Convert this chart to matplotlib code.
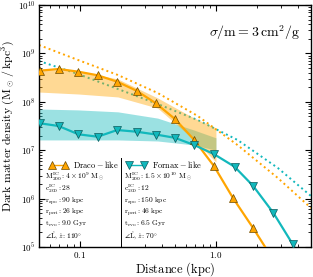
import matplotlib
matplotlib.use("Agg")
import matplotlib.pyplot as plt
from matplotlib.lines import Line2D
import numpy as np

plt.rcParams['font.family'] = 'serif'
plt.rcParams['font.serif'] = ['cmr10', 'DejaVu Serif']
plt.rcParams['mathtext.fontset'] = 'cm'
plt.rcParams['axes.formatter.use_mathtext'] = True

# ---- data ----
draco_r = [0.0508, 0.0697, 0.0974, 0.135, 0.188, 0.261, 0.362, 0.500, 0.692, 0.967, 1.34, 1.87]
draco_rho = [4.4e8, 4.76e8, 4.19e8, 3.53e8, 2.6e8, 1.69e8, 9.3e7, 4.4e7, 1.63e7, 4.7e6, 1.01e6, 2.5e5]
draco_tail_r = [2.4]
draco_tail_rho = [8.3e4]

fornax_r = [0.0508, 0.0697, 0.0974, 0.135, 0.188, 0.261, 0.362, 0.500, 0.692, 0.967, 1.37, 1.88, 2.64, 3.67]
fornax_rho = [3.6e7, 3.16e7, 2.13e7, 1.9e7, 2.61e7, 2.41e7, 2.11e7, 1.8e7, 1.28e7, 8.3e6, 4.56e6, 1.82e6, 5.1e5, 1.14e5]
fornax_tail_r = [3.9]
fornax_tail_rho = [8.5e4]

init_r = [0.05, 0.0969, 0.190, 0.373, 0.734, 1.44, 2.85, 5.0]
draco_init_rho = [1.49e9, 7.3e8, 3.58e8, 1.52e8, 5.1e7, 1.28e7, 2.67e6, 6.4e5]
fornax_init_rho = [6.97e8, 3.75e8, 1.84e8, 9.0e7, 4.2e7, 1.63e7, 4.3e6, 1.13e6]

band_r = [0.05, 0.0969, 0.190, 0.373, 0.692, 1.0]
draco_band_hi = [4.76e8, 4.33e8, 2.96e8, 1.2e8, 4.6e7, 2.88e7]
draco_band_lo = [1.59e8, 1.45e8, 1.26e8, 7.4e7, 1.63e7, 5.7e6]
fornax_band_hi = [7.1e7, 6.8e7, 6.2e7, 4.6e7, 2.6e7, 1.8e7]
fornax_band_lo = [1.63e7, 1.63e7, 1.63e7, 1.55e7, 1.28e7, 1.0e7]

draco_params = [r'$\mathrm{M_{200}^{IC}: 4\times10^{9}\ M_\odot}$',
                r'$\mathrm{c_{200}^{IC}: 28}$',
                r'$\mathrm{r_{apo}: 90\ kpc}$',
                r'$\mathrm{r_{peri}: 26\ kpc}$',
                r'$\mathrm{t_{evo}: 9.0\ Gyr}$',
                r'$\angle\hat{\mathrm{L}},\hat{z}: 110^{\circ}$']
fornax_params = [r'$\mathrm{M_{200}^{IC}: 1.5\times10^{10}\ M_\odot}$',
                 r'$\mathrm{c_{200}^{IC}: 12}$',
                 r'$\mathrm{r_{apo}: 150\ kpc}$',
                 r'$\mathrm{r_{peri}: 46\ kpc}$',
                 r'$\mathrm{t_{evo}: 6.5\ Gyr}$',
                 r'$\angle\hat{\mathrm{L}},\hat{z}: 70^{\circ}$']

ORANGE = '#FFA500'
TEAL = '#12B8BC'

fig = plt.figure(figsize=(3.13, 2.77), dpi=100)
ax = fig.add_axes([39/313, 30/277, 272/313, 242/277])

# initial profiles (dotted)
ax.plot(init_r, draco_init_rho, ls=':', color=ORANGE, lw=1.4, zorder=1)
ax.plot(init_r, fornax_init_rho, ls=':', color=TEAL, lw=1.4, zorder=1)

# bands
ax.fill_between(band_r, fornax_band_lo, fornax_band_hi, color=TEAL, alpha=0.42, lw=0, zorder=2)
ax.fill_between(band_r, draco_band_lo, draco_band_hi, color=ORANGE, alpha=0.42, lw=0, zorder=2)

# simulated profiles
ax.plot(draco_r + draco_tail_r, draco_rho + draco_tail_rho, color=ORANGE, lw=1.6, zorder=3)
ax.plot(draco_r, draco_rho, ls='none', marker='^', ms=5.5, mfc=ORANGE, mec='#6b4a00', mew=0.5, zorder=4)
ax.plot(fornax_r + fornax_tail_r, fornax_rho + fornax_tail_rho, color=TEAL, lw=1.6, zorder=3)
ax.plot(fornax_r, fornax_rho, ls='none', marker='v', ms=5.5, mfc=TEAL, mec='#0a5a5c', mew=0.5, zorder=4)

ax.set_xscale('log')
ax.set_yscale('log')
ax.set_xlim(0.05, 5.0)
ax.set_ylim(1e5, 1e10)
ax.set_xticks([0.1, 1.0])
ax.set_xticklabels([r'$0.1$', r'$1.0$'])
ax.tick_params(which='both', direction='in', top=True, right=True, labelsize=6.5)
ax.tick_params(which='major', length=4, width=0.8, pad=2.5)
ax.tick_params(which='minor', length=2, width=0.6)
for s in ax.spines.values():
    s.set_linewidth(1.0)

ax.set_xlabel(r'$\mathrm{Distance\ (kpc)}$', fontsize=9, labelpad=0)
ax.set_ylabel(r'$\mathrm{Dark\ matter\ density\ (M_\odot\,/\,kpc^3)}$', fontsize=8.5, labelpad=1)

ax.text(0.96, 0.884, r'$\sigma/\mathrm{m}=3\,\mathrm{cm^2/g}$', transform=ax.transAxes,
        ha='right', va='center', fontsize=10)

# legends
h1 = Line2D([], [], color=ORANGE, lw=1.0, marker='^', ms=5.5, mfc=ORANGE, mec='#6b4a00', mew=0.5)
h2 = Line2D([], [], color=TEAL, lw=1.0, marker='v', ms=5.5, mfc=TEAL, mec='#0a5a5c', mew=0.5)
leg1 = ax.legend([h1], [r'$\mathrm{Draco-like}$'], loc='center left', bbox_to_anchor=(0.038, 0.342),
                 frameon=False, numpoints=2, fontsize=6, handlelength=2.2, handletextpad=0.6,
                 borderpad=0, borderaxespad=0)
ax.add_artist(leg1)
leg2 = ax.legend([h2], [r'$\mathrm{Fornax-like}$'], loc='center left', bbox_to_anchor=(0.322, 0.342),
                 frameon=False, numpoints=2, fontsize=6, handlelength=2.4, handletextpad=0.6,
                 borderpad=0, borderaxespad=0)

rows_y = [0.292, 0.241, 0.190, 0.143, 0.095, 0.043]
for t, y in zip(draco_params, rows_y):
    ax.text(0.022, y, t, transform=ax.transAxes, ha='left', va='center', fontsize=5.4)
for t, y in zip(fornax_params, rows_y):
    ax.text(0.313, y, t, transform=ax.transAxes, ha='left', va='center', fontsize=5.4)

ax.plot([0.301, 0.301], [0.0, 0.368], transform=ax.transAxes, color='k', lw=0.7, zorder=5)

fig.savefig('out.png', dpi=100)
